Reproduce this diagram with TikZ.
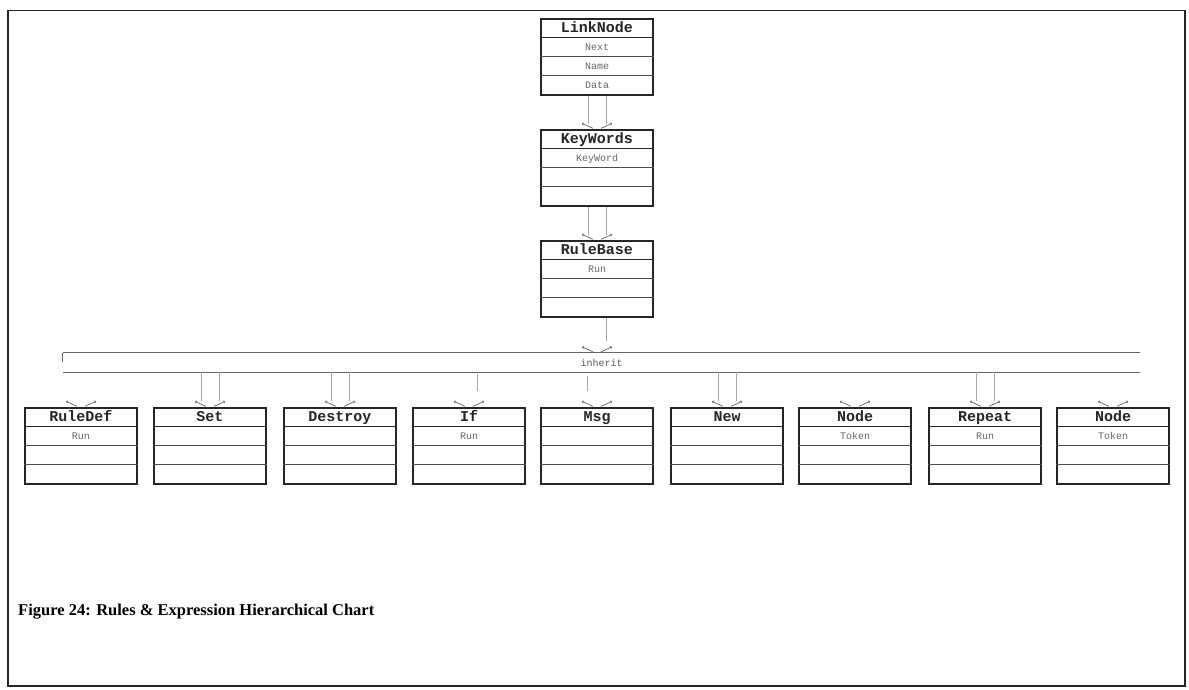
\documentclass[tikz,border=0pt]{standalone}
\usepackage{fontspec}
\setmainfont{Liberation Serif}
\setmonofont{Liberation Mono}
\usetikzlibrary{arrows.meta,calc}

\tikzset{
  classbox/.style={draw=black!85, line width=1.3pt, minimum width=112pt,
    minimum height=76pt, inner sep=0pt, fill=white},
  rowsep/.style={draw=black!70, line width=0.9pt},
  titlesep/.style={draw=black!85, line width=1.5pt},
  ctitle/.style={font=\fontsize{15}{15}\selectfont\ttfamily\bfseries,
    text=black!85, inner sep=0pt, anchor=base},
  cattr/.style={font=\fontsize{10}{10}\selectfont\ttfamily, text=black!60,
    inner sep=0pt, anchor=base},
  shaft/.style={draw=black!35, line width=0.6pt},
  headline/.style={draw=black!55, line width=0.8pt, -{To[length=2pt,width=3pt]}},
  bandline/.style={draw=black!60, line width=1pt},
  frameline/.style={draw=black!85, line width=1.5pt},
}

% one class: name, x, y (centre), title, first attribute
\newcommand{\umlclass}[5]{%
  \node[classbox] (#1) at (#2,#3) {};
  \draw[titlesep] ([yshift=-19pt]#1.north west) -- ([yshift=-19pt]#1.north east);
  \draw[rowsep] ([yshift=-38pt]#1.north west) -- ([yshift=-38pt]#1.north east);
  \draw[rowsep] ([yshift=-57pt]#1.north west) -- ([yshift=-57pt]#1.north east);
  \node[ctitle] (#1-t) at ([yshift=-14.5pt]#1.north) {#4};
  \node[cattr] (#1-a) at ([yshift=-32pt]#1.north) {#5};
}

% split inheritance head sitting just above a point
\newcommand{\inhhead}[1]{%
  \draw[headline] ($#1+(-4,-1)$) -- ($#1+(-15,-6)$);
  \draw[headline] ($#1+(4,-1)$) -- ($#1+(15,-6)$);
}

\begin{document}
\begin{tikzpicture}[x=1pt,y=-1pt]
\useasboundingbox (0,0) rectangle (1189,689);
\fill[white] (0,0) rectangle (1189,689);

% outer frame
\draw[frameline] (8,10.5) rectangle (1185,686);

% top chain
\umlclass{linknode}{597}{57}{LinkNode}{Next}
\node[cattr] at ([yshift=-51pt]linknode.north) {Name};
\node[cattr] at ([yshift=-70pt]linknode.north) {Data};
\umlclass{keywords}{597}{168}{KeyWords}{KeyWord}
\umlclass{rulebase}{597}{279}{RuleBase}{Run}

% inherit band
\node[minimum width=1077pt, minimum height=19pt, inner sep=0pt,
      font=\fontsize{10}{10}\selectfont\ttfamily, text=black!65] (band) at (601.5,362.5) {inherit};
\draw[bandline] (band.north west) -- (band.north east);
\draw[bandline] (band.south west) -- (band.south east);
\draw[bandline] (band.north west) -- ([yshift=-9pt]band.north west);

% children
\umlclass{ruledef}{81}{446}{RuleDef}{Run}
\umlclass{set}{210}{446}{Set}{}
\umlclass{destroy}{340}{446}{Destroy}{}
\umlclass{if}{469}{446}{If}{Run}
\umlclass{msg}{597}{446}{Msg}{}
\umlclass{new}{727}{446}{New}{}
\umlclass{nodea}{855}{446}{Node}{Token}
\umlclass{repeat}{985}{446}{Repeat}{Run}
\umlclass{nodeb}{1113}{446}{Node}{Token}

% connectors along the chain
\draw[shaft] ($(linknode.south)+(-9,0)$) -- ($(keywords.north)+(-9,-5)$);
\draw[shaft] ($(linknode.south)+(9,0)$) -- ($(keywords.north)+(9,-5)$);
\inhhead{(keywords.north)}
\draw[shaft] ($(keywords.south)+(-9,0)$) -- ($(rulebase.north)+(-9,-5)$);
\draw[shaft] ($(keywords.south)+(9,0)$) -- ($(rulebase.north)+(9,-5)$);
\inhhead{(rulebase.north)}
\draw[shaft] ($(rulebase.south)+(9,0)$) -- ($(rulebase.south |- band.north)+(9,-12)$);
\inhhead{(rulebase.south |- band.north)}

% connectors from the band to each child
\foreach \c in {ruledef,set,destroy,if,msg,new,nodea,repeat,nodeb}{
  \inhhead{(\c.north)}
}
\foreach \c in {set,destroy,new,repeat}{
  \draw[shaft] ($(band.south -| \c.north)+(-9,0)$) -- ($(\c.north)+(-9,-6)$);
  \draw[shaft] ($(band.south -| \c.north)+(9,0)$) -- ($(\c.north)+(9,-6)$);
}
\draw[shaft] ($(band.south -| if.north)+(8,2)$) -- ($(if.north)+(8,-16)$);
\draw[shaft] ($(band.south -| msg.north)+(-10,4)$) -- ($(msg.north)+(-10,-16)$);

% caption
\node[anchor=west, inner sep=0pt, font=\fontsize{16.5}{16.5}\selectfont\bfseries] (caption)
  at (18,612) {Figure 24: Rules \& Expression Hierarchical Chart};
\end{tikzpicture}
\end{document}
